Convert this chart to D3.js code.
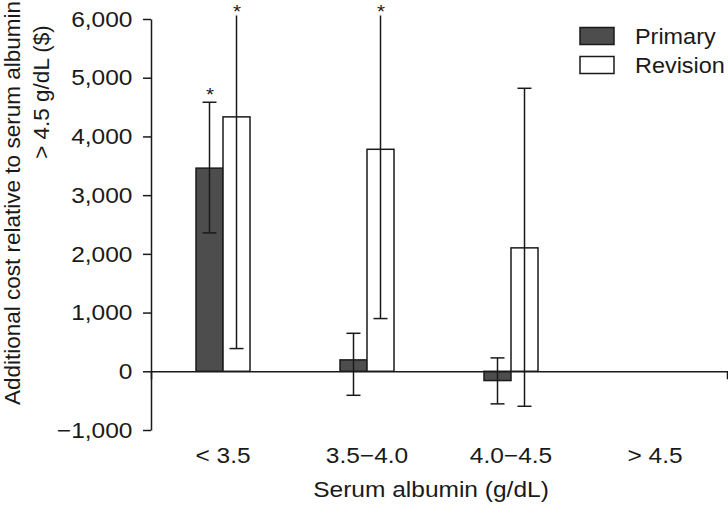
<!DOCTYPE html>
<html>
<head>
<meta charset="utf-8">
<script src="https://cdn.jsdelivr.net/npm/d3@7"></script>
<style>
  body { margin: 0; background: #fff; }
  text { font-family: "Liberation Sans", Arial, sans-serif; fill: #1a1a1a; }
</style>
</head>
<body>
<div id="chart"></div>
<script>
const categories = ['< 3.5', '3.5\u22124.0', '4.0\u22124.5', '> 4.5'];
const series = ['Primary', 'Revision'];
const primaryValues = [3460, 194, -158, null];
const primaryLow = [2357, -409, -555, null];
const primaryHigh = [4582, 647, 228, null];
const revisionValues = [4333, 3781, 2102, null];
const revisionLow = [387, 898, -596, null];
const revisionHigh = [6060, 6060, 4820, null];
const primarySig = [true, false, false, false];
const revisionSig = [true, true, false, false];
const yTicks = [-1000, 0, 1000, 2000, 3000, 4000, 5000, 6000];

const width = 728;
const height = 513;
const margin = { top: 19, right: 1, bottom: 83, left: 151 };
const ink = '#1a1a1a';
const fontSize = 22.5;
const stretch = 'scale(1.09,1)'; // the source picture is a little wider than tall

const rows = [];
categories.forEach((cat, i) => {
  rows.push({ cat, series: 'Primary', value: primaryValues[i], lo: primaryLow[i], hi: primaryHigh[i], sig: primarySig[i] });
  rows.push({ cat, series: 'Revision', value: revisionValues[i], lo: revisionLow[i], hi: revisionHigh[i], sig: revisionSig[i] });
});
const bars = rows.filter((d) => d.value !== null);

const svg = d3.select('#chart')
  .append('svg')
  .attr('width', width)
  .attr('height', height);

const x = d3.scaleBand()
  .domain(categories)
  .range([margin.left, width - margin.right])
  .paddingInner(0.625)
  .paddingOuter(0.3125);

const xs = d3.scaleBand()
  .domain(series)
  .range([0, x.bandwidth()]);

const y = d3.scaleLinear()
  .domain([-1000, 6000])
  .range([430, margin.top]);

const color = d3.scaleOrdinal()
  .domain(series)
  .range(['#4d4d4d', '#ffffff']);

// y axis
const yAxis = svg.append('g')
  .attr('transform', `translate(${margin.left},0)`)
  .call(d3.axisLeft(y).tickValues(yTicks).tickFormat(d3.format(',')).tickSize(8).tickPadding(9).tickSizeOuter(0));
yAxis.select('.domain').attr('stroke', ink).attr('stroke-width', 1.5);
yAxis.selectAll('.tick line').attr('stroke', ink).attr('stroke-width', 1.5);
yAxis.selectAll('.tick text')
  .attr('font-size', fontSize)
  .attr('font-family', '"Liberation Sans", Arial, sans-serif')
  .attr('fill', ink)
  .attr('transform', stretch);

// bars
svg.append('g')
  .selectAll('rect')
  .data(bars)
  .enter()
  .append('rect')
  .attr('x', (d) => x(d.cat) + xs(d.series))
  .attr('y', (d) => y(Math.max(0, d.value)))
  .attr('width', xs.bandwidth())
  .attr('height', (d) => Math.abs(y(d.value) - y(0)))
  .attr('fill', (d) => color(d.series))
  .attr('stroke', ink)
  .attr('stroke-width', 1.5);

// zero line as an x axis
const xAxis = svg.append('g')
  .attr('transform', `translate(0,${y(0)})`)
  .call(d3.axisBottom(x).tickSizeInner(0).tickSizeOuter(8).tickFormat(''));
xAxis.select('.domain').attr('stroke', ink).attr('stroke-width', 1.5);

// error bars
const cx = (d) => x(d.cat) + xs(d.series) + xs.bandwidth() / 2;
const capW = 7;
const err = svg.append('g')
  .attr('stroke', ink)
  .attr('stroke-width', 1.5);

err.selectAll('line.stem')
  .data(bars)
  .enter()
  .append('line')
  .attr('class', 'stem')
  .attr('x1', cx)
  .attr('x2', cx)
  .attr('y1', (d) => y(d.lo))
  .attr('y2', (d) => y(d.hi));

// bars running past the top of the axis are drawn without a cap
const caps = [];
bars.forEach((d) => {
  caps.push({ d, v: d.lo });
  if (d.hi <= 6000) caps.push({ d, v: d.hi });
});
err.selectAll('line.cap')
  .data(caps)
  .enter()
  .append('line')
  .attr('class', 'cap')
  .attr('x1', (c) => cx(c.d) - capW)
  .attr('x2', (c) => cx(c.d) + capW)
  .attr('y1', (c) => y(c.v))
  .attr('y2', (c) => y(c.v));

// significance stars
svg.append('g')
  .selectAll('text')
  .data(bars.filter((d) => d.sig))
  .enter()
  .append('text')
  .attr('transform', (d) => `translate(${cx(d) + 0.5},${y(Math.min(d.hi, 6000)) - 1.3}) ${stretch}`)
  .attr('text-anchor', 'middle')
  .attr('font-size', 19)
  .text('*');

// category labels
const catAxis = svg.append('g')
  .attr('transform', 'translate(0,447)')
  .call(d3.axisBottom(x).tickSize(0).tickPadding(0));
catAxis.select('.domain').remove();
catAxis.selectAll('.tick text')
  .attr('font-size', fontSize)
  .attr('font-family', '"Liberation Sans", Arial, sans-serif')
  .attr('fill', ink)
  .attr('transform', stretch);

// axis titles
svg.append('text')
  .attr('transform', `translate(${(x.range()[0] + x.range()[1]) / 2 - 8},497) ${stretch}`)
  .attr('text-anchor', 'middle')
  .attr('font-size', fontSize)
  .text('Serum albumin (g/dL)');

svg.append('text')
  .attr('transform', 'translate(19.5,405) rotate(-90)')
  .attr('text-anchor', 'start')
  .attr('font-size', fontSize)
  .text('Additional cost relative to serum albumin');

svg.append('text')
  .attr('transform', 'translate(48.5,92) rotate(-90)')
  .attr('text-anchor', 'middle')
  .attr('font-size', fontSize)
  .text('> 4.5 g/dL ($)');

// legend
const legend = svg.append('g')
  .selectAll('g')
  .data(series)
  .enter()
  .append('g')
  .attr('transform', (d, i) => `translate(580,${27.5 + i * 29})`);

legend.append('rect')
  .attr('width', 34)
  .attr('height', 17)
  .attr('fill', (d) => color(d))
  .attr('stroke', ink)
  .attr('stroke-width', 1.5);

legend.append('text')
  .attr('transform', `translate(55,16.5) ${stretch}`)
  .attr('font-size', 21.5)
  .text((d) => d);
</script>
</body>
</html>
